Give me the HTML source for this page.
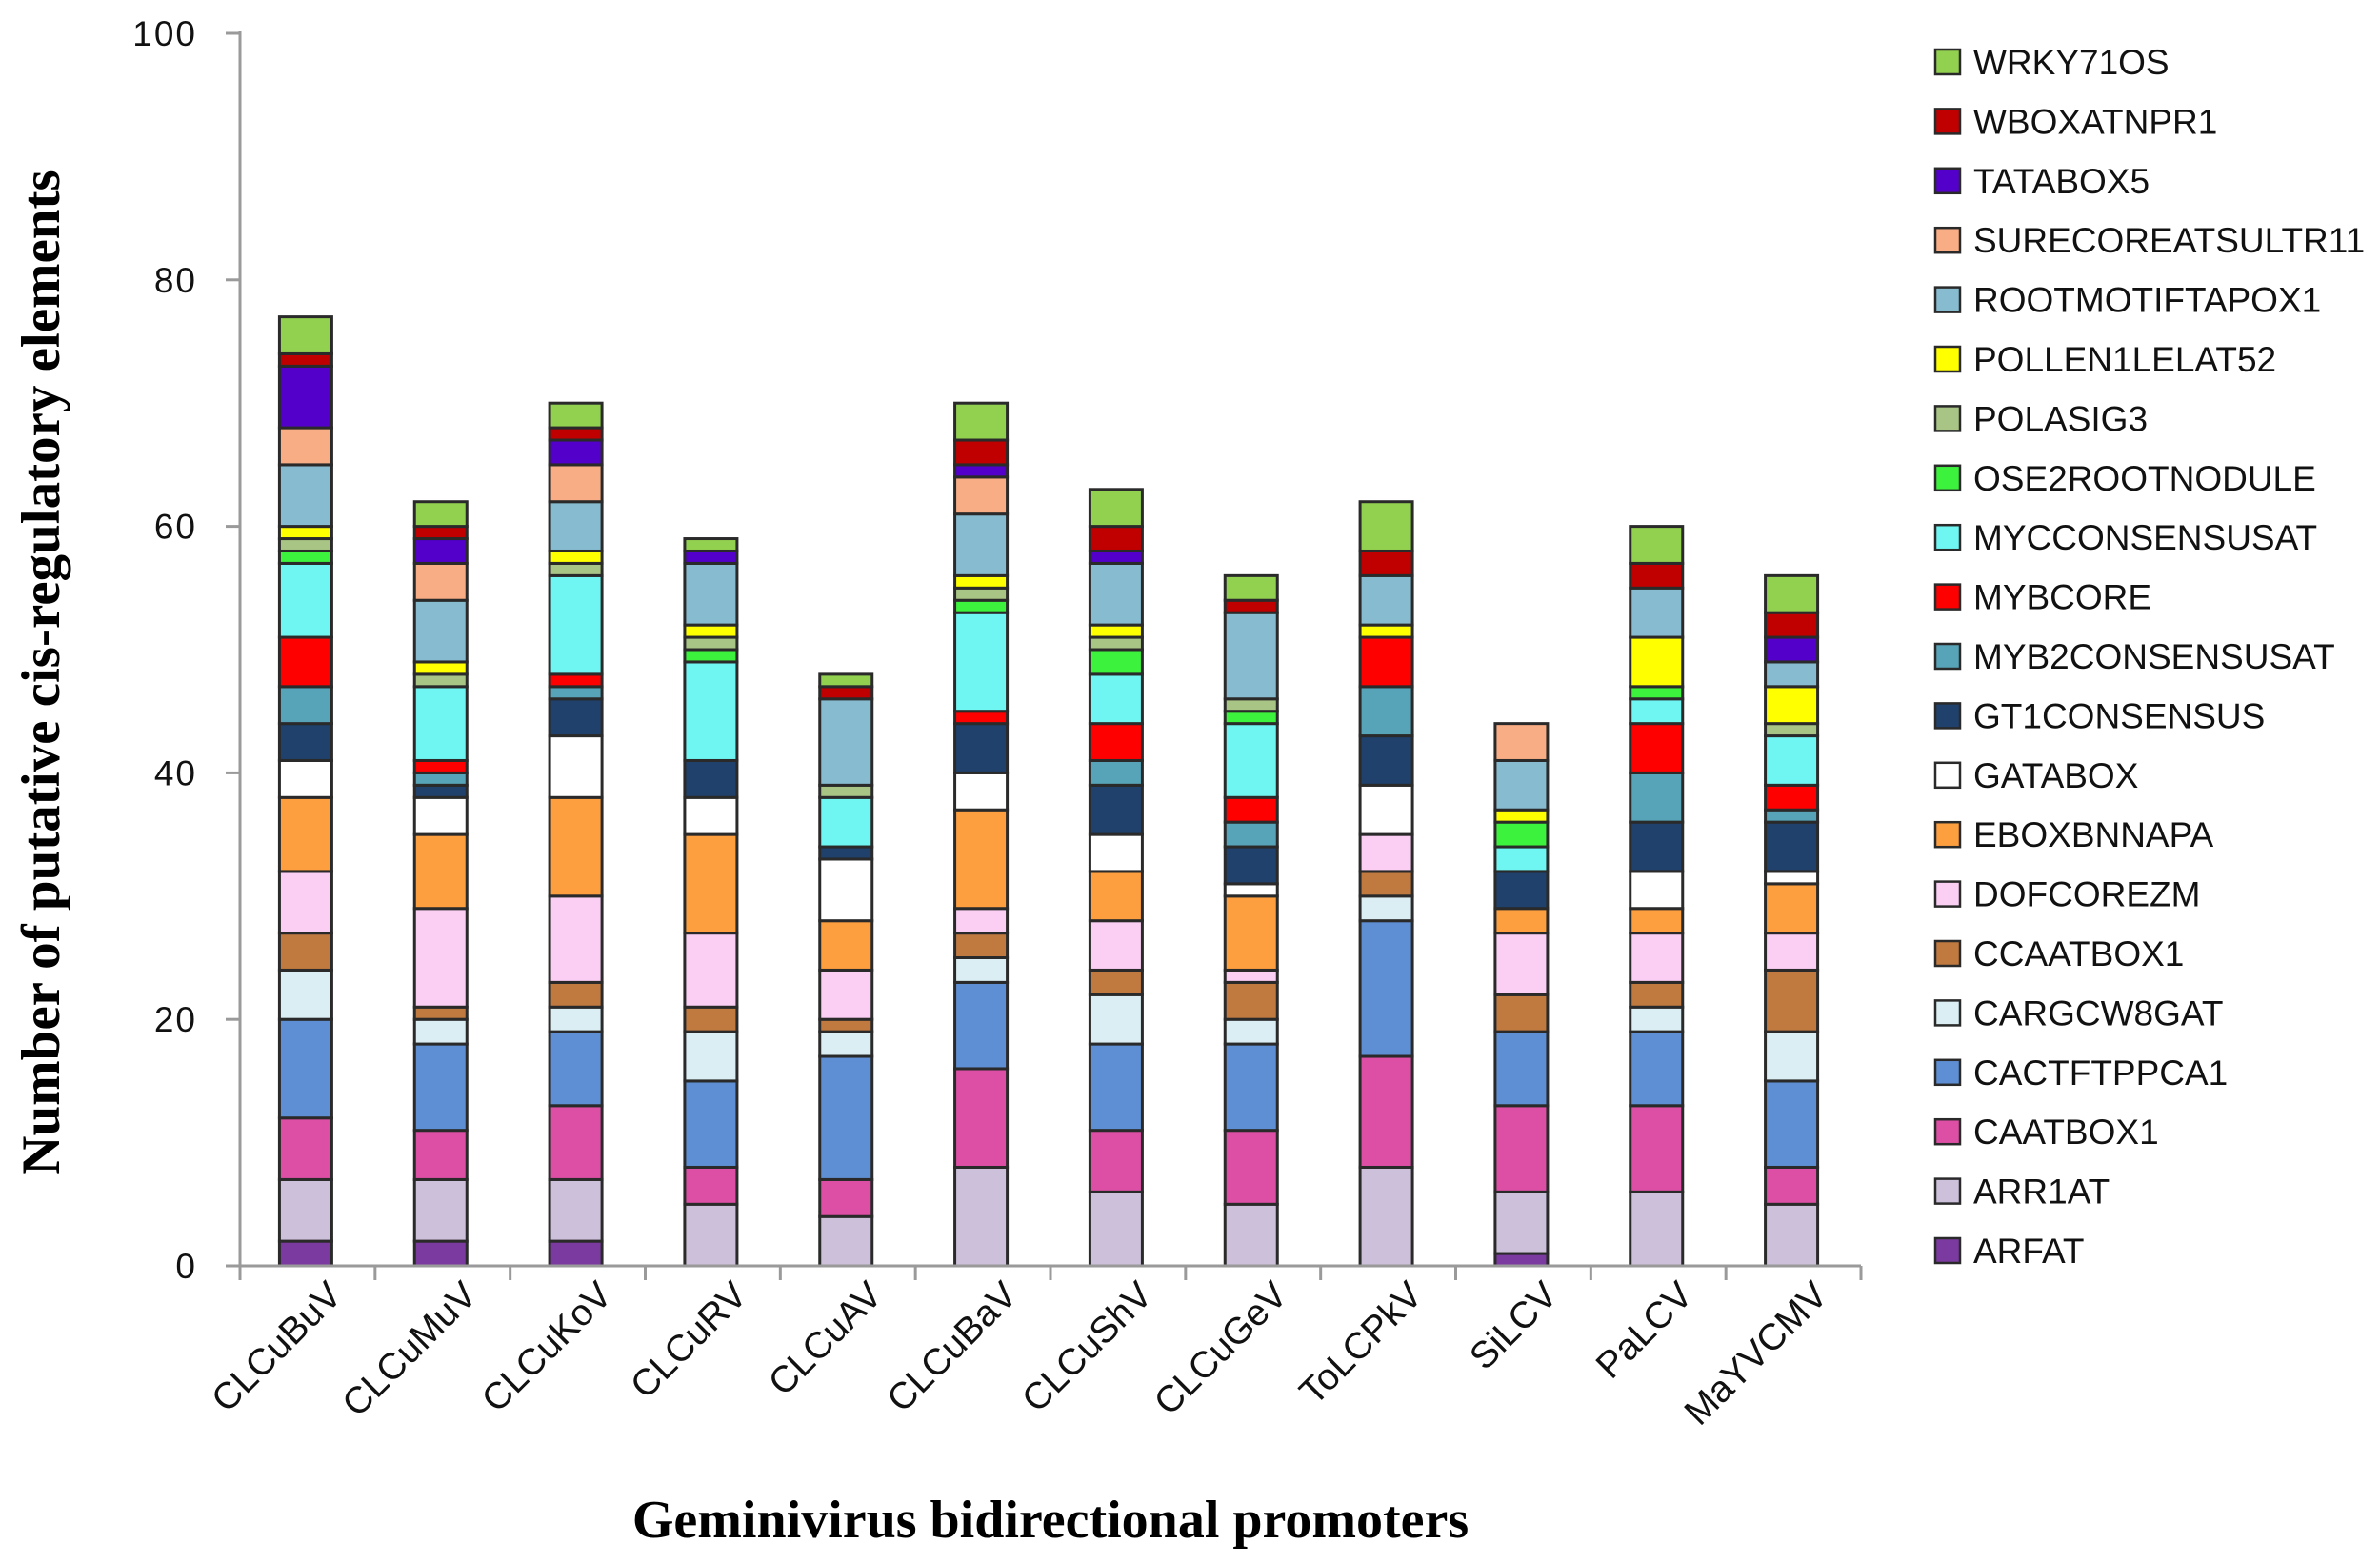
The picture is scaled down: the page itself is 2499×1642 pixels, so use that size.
<!DOCTYPE html>
<html><head><meta charset="utf-8">
<style>
html,body{margin:0;padding:0;background:#fff;}
svg{display:block;}
text{font-family:"Liberation Sans",sans-serif;}
.serif{font-family:"Liberation Serif",serif;font-weight:bold;}
</style></head>
<body>
<svg id="chart" width="2499" height="1642" viewBox="0 0 2499 1642" xmlns="http://www.w3.org/2000/svg">
<g id="bars"></g>
<g id="axes"></g>
<g id="legend"></g>
<text class="serif" x="0" y="0" font-size="57" text-anchor="middle" transform="translate(62,706) rotate(-90)">Number of putative cis-regulatory elements</text>
<text class="serif" x="1103" y="1614" font-size="56" text-anchor="middle">Geminivirus bidirectional promoters</text>
</svg>
<script>
const categories = ["CLCuBuV","CLCuMuV","CLCuKoV","CLCuRV","CLCuAV","CLCuBaV","CLCuShV","CLCuGeV","ToLCPkV","SiLCV","PaLCV","MaYVCMV"];
const seriesNames = ["ARFAT","ARR1AT","CAATBOX1","CACTFTPPCA1","CARGCW8GAT","CCAATBOX1","DOFCOREZM","EBOXBNNAPA","GATABOX","GT1CONSENSUS","MYB2CONSENSUSAT","MYBCORE","MYCCONSENSUSAT","OSE2ROOTNODULE","POLASIG3","POLLEN1LELAT52","ROOTMOTIFTAPOX1","SURECOREATSULTR11","TATABOX5","WBOXATNPR1","WRKY71OS"];
const seriesColors = ["#7b3aa0","#ccc0da","#dd4fa5","#5e8fd4","#daeef3","#c07a40","#fbcff4","#fd9e3f","#ffffff","#1f416b","#57a3b8","#ff0000","#6ff6f3","#3cf23c","#a9c585","#ffff00","#86bbd0","#f9ad85","#5300cb","#c00000","#92d050"];
// values[category][series]
const valCLCuBuV = [2,5,5,8,4,3,5,6,3,3,3,4,6,1,1,1,5,3,5,1,3];
const valCLCuMuV = [2,5,4,7,2,1,8,6,3,1,1,1,6,0,1,1,5,3,2,1,2];
const valCLCuKoV = [2,5,6,6,2,2,7,8,5,3,1,1,8,0,1,1,4,3,2,1,2];
const valCLCuRV  = [0,5,3,7,4,2,6,8,3,3,0,0,8,1,1,1,5,0,1,0,1];
const valCLCuAV  = [0,4,3,10,2,1,4,4,5,1,0,0,4,0,1,0,7,0,0,1,1];
const valCLCuBaV = [0,8,8,7,2,2,2,8,3,4,0,1,8,1,1,1,5,3,1,2,3];
const valCLCuShV = [0,6,5,7,4,2,4,4,3,4,2,3,4,2,1,1,5,0,1,2,3];
const valCLCuGeV = [0,5,6,7,2,3,1,6,1,3,2,2,6,1,1,0,7,0,0,1,2];
const valToLCPkV = [0,8,9,11,2,2,3,0,4,4,4,4,0,0,0,1,4,0,0,2,4];
const valSiLCV   = [1,5,7,6,0,3,5,2,0,3,0,0,2,2,0,1,4,3,0,0,0];
const valPaLCV   = [0,6,7,6,2,2,4,2,3,4,4,4,2,1,0,4,4,0,0,2,3];
const valMaYVCMV = [0,5,3,7,4,5,3,4,1,4,1,2,4,0,1,3,2,0,2,2,3];
const values = [valCLCuBuV,valCLCuMuV,valCLCuKoV,valCLCuRV,valCLCuAV,valCLCuBaV,valCLCuShV,valCLCuGeV,valToLCPkV,valSiLCV,valPaLCV,valMaYVCMV];
const yTicks = [0,20,40,60,80,100];

const NS="http://www.w3.org/2000/svg";
const X0=252, X1=1954, Y0=1329, YTOP=35, YMAX=100;
const step=(X1-X0)/categories.length, barW=55;
function y(v){return Y0-(v/YMAX)*(Y0-YTOP);}
function xc(i){return X0+step*(i+0.5)-2;}
function mk(tag,attrs,parent){const e=document.createElementNS(NS,tag);for(const k in attrs)e.setAttribute(k,attrs[k]);parent.appendChild(e);return e;}

const gBars=document.getElementById('bars');
categories.forEach((c,i)=>{
  const g=mk('g',{},gBars);
  
  
  let acc=0;
  values[i].forEach((v,s)=>{
    if(v<=0)return;
    const r=mk('rect',{x:xc(i)-barW/2,y:y(acc+v),width:barW,height:y(acc)-y(acc+v),fill:seriesColors[s],stroke:'#2a2a2a','stroke-width':3},g);
    
    
    acc+=v;
  });
});

const gAx=document.getElementById('axes');
const ya=mk('line',{x1:X0,y1:YTOP-2,x2:X0,y2:Y0+2,stroke:'#9a9a9a','stroke-width':3},gAx);


const xa=mk('line',{x1:X0-15,y1:Y0,x2:X1,y2:Y0,stroke:'#9a9a9a','stroke-width':3},gAx);


yTicks.forEach(t=>{
  const l=mk('line',{x1:X0-15,y1:y(t),x2:X0,y2:y(t),stroke:'#9a9a9a','stroke-width':3},gAx);
  
  
  const tx=mk('text',{x:207,y:y(t)+13,'font-size':37,'text-anchor':'end',fill:'#111','letter-spacing':'2'},gAx);
  tx.textContent=t;
  
  
});
for(let i=0;i<=categories.length;i++){
  const xx=X0+step*i;
  const l=mk('line',{x1:xx,y1:Y0,x2:xx,y2:Y0+15,stroke:'#9a9a9a','stroke-width':3},gAx);
  
  
}
categories.forEach((c,i)=>{
  const tx=mk('text',{x:0,y:0,'font-size':39,'text-anchor':'end',fill:'#111',transform:`translate(${xc(i)+40},${1362}) rotate(-45)`},gAx);
  tx.textContent=c;
  
  
});

const gL=document.getElementById('legend');
for(let k=0;k<seriesNames.length;k++){
  const s=seriesNames.length-1-k;
  const yy=65+k*62.4;
  const g=mk('g',{},gL);
  
  
  mk('rect',{x:2032,y:yy-13,width:26,height:26,fill:seriesColors[s],stroke:'#2a2a2a','stroke-width':2.5},g);
  const tx=mk('text',{x:2072,y:yy+13,'font-size':37,fill:'#111'},g);
  tx.textContent=seriesNames[s];
}
</script>
</body></html>
